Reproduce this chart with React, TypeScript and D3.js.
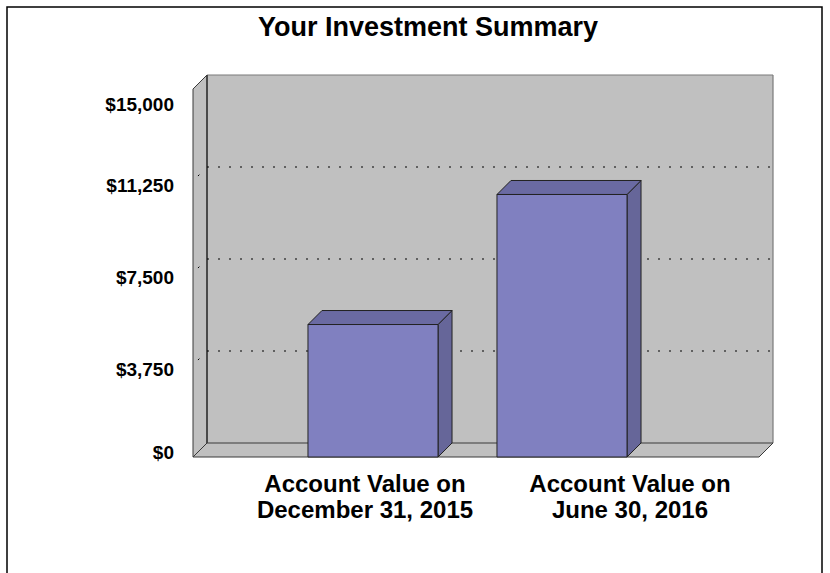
import React from "react";
import * as d3 from "d3";

const title = "Your Investment Summary";
const categories = ["Account Value on|December 31, 2015", "Account Value on|June 30, 2016"];
const values = [5400, 10700];
const yTicks = [0, 3750, 7500, 11250, 15000];
const gridValues = [3750, 7500, 11250];

const W = 830;
const H = 573;
const FONT = "'Liberation Sans', Arial, Helvetica, sans-serif";

export default function App() {
  const depth = 14;
  const frontLeft = 193;
  const frontRight = 759;
  const y = d3.scaleLinear().domain([0, 15000]).range([457, 89]);
  const fmt = (v: number) => "$" + d3.format(",")(v);

  const x = d3
    .scaleBand<string>()
    .domain(categories)
    .range([278.5, 656.5])
    .paddingInner(0.312)
    .paddingOuter(0.156);
  const labelX = d3.scalePoint<string>().domain(categories).range([365, 630]);

  const y0 = y(0);
  const yTop = y(15000);
  const bw = x.bandwidth();

  const backL = frontLeft + depth;
  const backR = frontRight + depth;

  return (
    <svg width={W} height={H} style={{ position: "absolute", left: 0, top: 0, background: "#fff" }}>
      <rect x={7} y={7} width={815} height={600} fill="#fff" stroke="#000" strokeWidth={1.5} />
      <text x={428} y={36} textAnchor="middle" fontFamily={FONT} fontWeight="bold" fontSize={27} fill="#000">
        {title}
      </text>

      {/* back wall */}
      <rect x={backL} y={yTop - depth} width={backR - backL} height={y0 - yTop} fill="#c0c0c0" stroke="none" />
      <line x1={backL} y1={yTop - depth} x2={backR} y2={yTop - depth} stroke="#7a7a7a" strokeWidth={1.2} />
      <line x1={backR} y1={yTop - depth} x2={backR} y2={y0 - depth} stroke="#7a7a7a" strokeWidth={1.2} />
      {/* side wall */}
      <polygon
        points={`${frontLeft},${yTop} ${backL},${yTop - depth} ${backL},${y0 - depth} ${frontLeft},${y0}`}
        fill="#c0c0c0"
        stroke="#3a3a3a"
        strokeWidth={1}
      />
      {/* floor */}
      <polygon
        points={`${frontLeft},${y0} ${backL},${y0 - depth} ${backR},${y0 - depth} ${frontRight},${y0}`}
        fill="#c0c0c0"
        stroke="#3a3a3a"
        strokeWidth={1}
      />
      <line x1={backL} y1={yTop - depth} x2={backL} y2={y0 - depth} stroke="#3a3a3a" strokeWidth={1.5} />

      {/* gridlines */}
      {gridValues.map((v) => (
        <g key={v}>
          <line x1={backL} y1={y(v) - depth} x2={backR} y2={y(v) - depth} stroke="#000" strokeWidth={1} strokeDasharray="2,9" />
          <line x1={frontLeft} y1={y(v)} x2={backL} y2={y(v) - depth} stroke="#000" strokeWidth={1} strokeDasharray="2,20" strokeDashoffset={-7} />
        </g>
      ))}

      {/* bars */}
      {categories.map((c, i) => {
        const bx = x(c) as number;
        const yv = y(values[i]);
        return (
          <g key={c} stroke="#222" strokeWidth={1} strokeLinejoin="round">
            <polygon
              points={`${bx + bw},${yv} ${bx + bw + depth},${yv - depth} ${bx + bw + depth},${y0 - depth} ${bx + bw},${y0}`}
              fill="#666699"
            />
            <polygon
              points={`${bx},${yv} ${bx + depth},${yv - depth} ${bx + bw + depth},${yv - depth} ${bx + bw},${yv}`}
              fill="#6a6aa2"
            />
            <rect x={bx} y={yv} width={bw} height={y0 - yv} fill="#8080c0" />
          </g>
        );
      })}

      {/* y tick labels */}
      {yTicks.map((v) => {
        const ty = Math.min(Math.max(y(v) + 4, 104), 452);
        return (
          <text key={v} x={174} y={ty} dy="0.35em" textAnchor="end" fontFamily={FONT} fontWeight="bold" fontSize={19} fill="#000">
            {fmt(v)}
          </text>
        );
      })}

      {/* category labels */}
      {categories.map((c) => {
        const lines = c.split("|");
        return (
          <text key={c} textAnchor="middle" fontFamily={FONT} fontWeight="bold" fontSize={24} fill="#000">
            {lines.map((l, j) => (
              <tspan key={j} x={labelX(c)} y={492 + j * 26}>
                {l}
              </tspan>
            ))}
          </text>
        );
      })}
    </svg>
  );
}
